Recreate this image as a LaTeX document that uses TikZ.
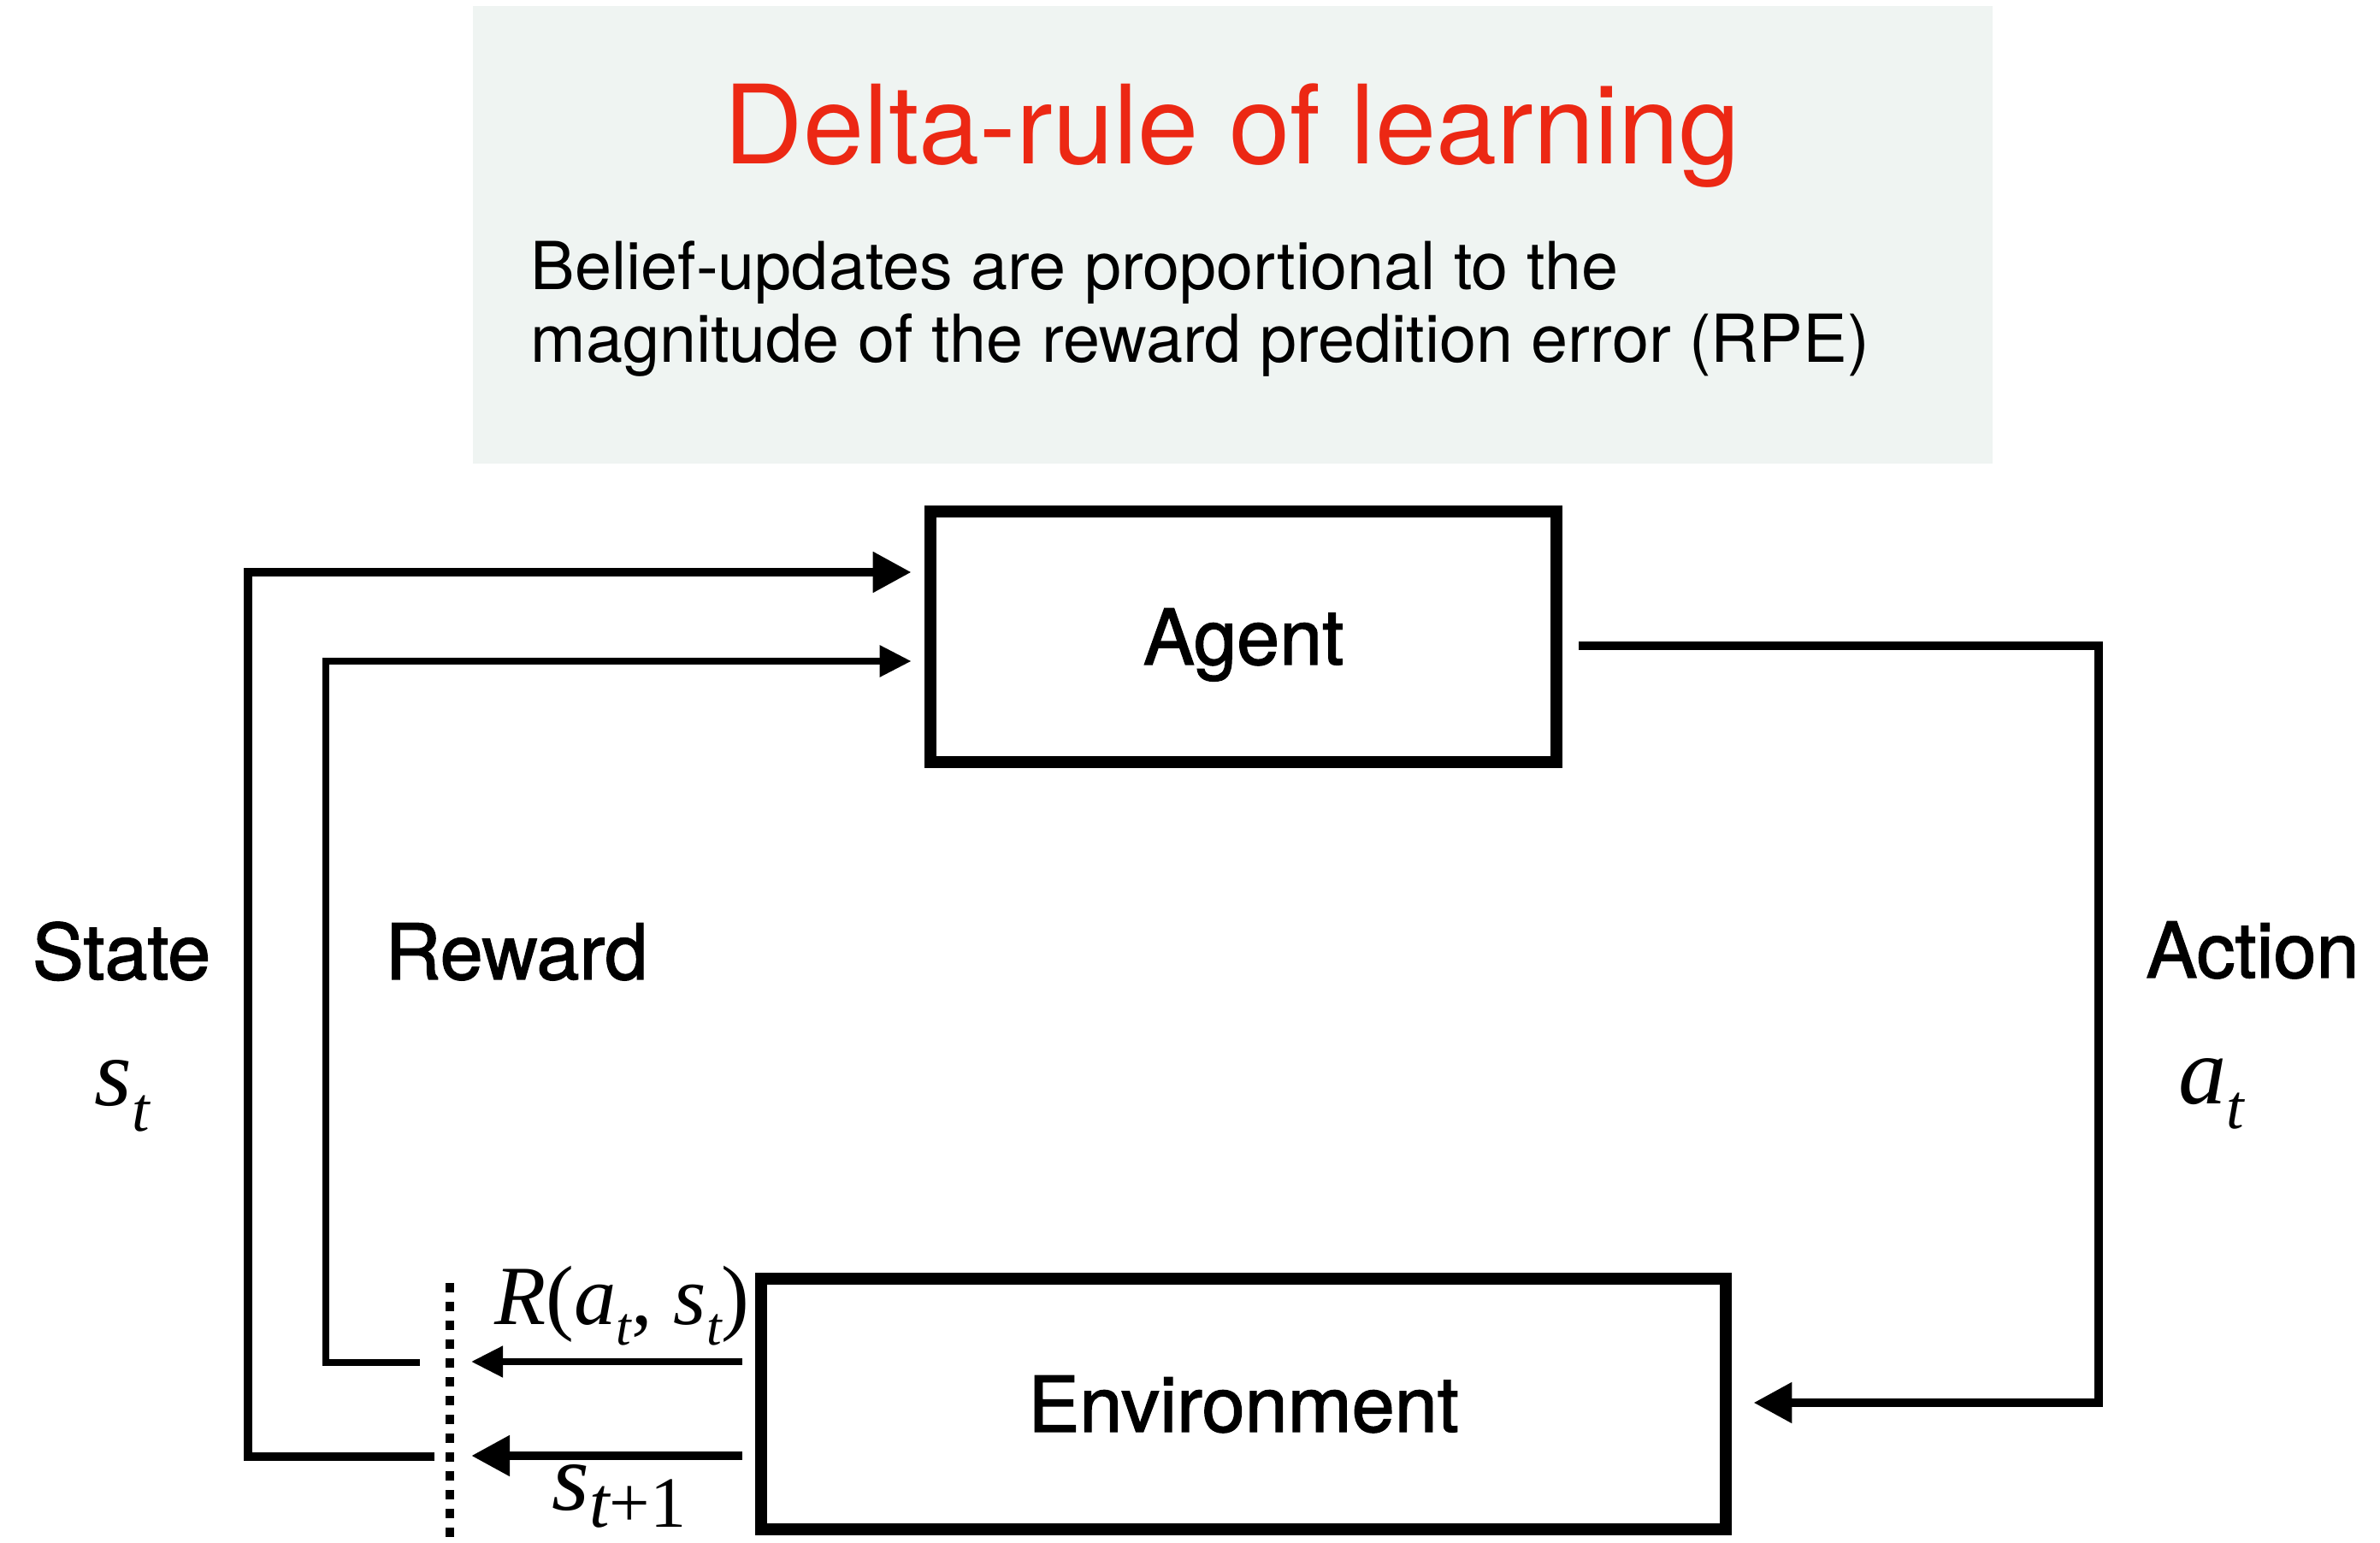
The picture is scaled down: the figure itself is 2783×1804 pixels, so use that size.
\documentclass[tikz,border=0pt]{standalone}
\usepackage{fontspec}
\setmainfont{TeX Gyre Heros}
\newfontfamily\medfont[FakeBold=1.5]{TeX Gyre Heros}
\newfontfamily\tms{Liberation Serif}
\usetikzlibrary{arrows.meta}
\definecolor{hdrgray}{RGB}{239,244,242}
\definecolor{titlered}{RGB}{236,40,20}
\newcommand\tvar[2]{{\tms\itshape\fontsize{#1}{#1}\selectfont #2}}
\newcommand\tup[2]{{\tms\fontsize{#1}{#1}\selectfont #2}}
\newcommand\tsub[3]{\raisebox{-#2}{\tms\itshape\fontsize{#1}{#1}\selectfont #3}}
\tikzset{
  box/.style={draw, line width=4pt, inner sep=0pt, minimum height=2.93cm,
    text height=18.4pt, text depth=0pt, font=\medfont\fontsize{25.6}{30}\selectfont},
  lbl/.style={inner sep=0pt, anchor=base, font=\medfont\fontsize{25.6}{30}\selectfont},
  mlbl/.style={inner sep=0pt, anchor=base west},
  bodytext/.style={inner sep=0pt, anchor=base west, font=\fontsize{22}{26}\selectfont},
  bigtip/.style={-{Triangle[length=0.45cm,width=0.45cm]}},
  smalltip/.style={-{Triangle[length=0.37cm,width=0.35cm]}},
  thickline/.style={line width=3.1pt},
  thinline/.style={line width=2.4pt},
  separator/.style={line width=2.85pt, dash pattern=on 0.11cm off 0.11cm},
}
\begin{document}
\begin{tikzpicture}[x=0.01cm, y=-0.01cm]
\fill[white] (0,0) rectangle (2783,1804);
\useasboundingbox (0,0) rectangle (2783,1804);

% header
\node[fill=hdrgray, inner sep=0pt, minimum width=17.75cm, minimum height=5.35cm] (hdr) at (1441.5,274.5) {};
\node[anchor=base, inner sep=0pt, text=titlered, font=\fontsize{36.4}{40}\selectfont] (title) at (1441,192) {Delta-rule of learning};
\node[bodytext] (body1) at (620,339) {Belief-updates are proportional to the};
\node[bodytext] (body2) at (620,424) {magnitude of the reward predition error (RPE)};

% boxes
\node[box, minimum width=7.32cm] (agent) at (1454,744.5) {Agent};
\node[box, minimum width=11.28cm] (env) at (1454,1641.5) {Environment};

% coordinates
\coordinate (sCornerT) at (290,669);
\coordinate (sCornerB) at (290,1703);
\coordinate (sEnd) at (508,1703);
\coordinate (rCornerT) at (381,773);
\coordinate (rCornerB) at (381,1593);
\coordinate (rEnd) at (491,1593);
\coordinate (aCornerT) at (2454,755);
\coordinate (aCornerB) at (2454,1640);
\coordinate (rTip) at (551,1592);
\coordinate (sTip) at (551,1702);
\coordinate (barTop) at (526,1500);
\coordinate (barBot) at (526,1797);

% state loop
\draw[thickline, bigtip, shorten >=0.15cm] (sEnd) -- (sCornerB) -- (sCornerT) -- (sCornerT -| agent.west);
% reward loop
\draw[thinline, smalltip, shorten >=0.15cm] (rEnd) -- (rCornerB) -- (rCornerT) -- (rCornerT -| agent.west);
% action
\draw[thickline, bigtip, shorten <=0.19cm, shorten >=0.25cm] (agent.east |- aCornerT) -- (aCornerT) -- (aCornerB) -- (env.east |- aCornerB);
% outputs of environment
\draw[line width=2.2pt, smalltip, shorten <=0.15cm] (env.west |- rTip) -- (rTip);
\draw[thickline, bigtip, shorten <=0.15cm] (env.west |- sTip) -- (sTip);
% separator
\draw[separator] (barTop) -- (barBot);

% labels
\node[lbl] (stateLbl) at (142,1145) {State};
\node[lbl] (rewardLbl) at (604,1145) {Reward};
\node[lbl] (actionLbl) at (2634,1143) {Action};
\node[mlbl] (st) at (110,1293) {\tvar{32}{s}\tsub{21}{8.3pt}{t}};
\node[mlbl] (at) at (2547,1291) {\tvar{32}{a}\tsub{21}{8pt}{t}};
\node[mlbl] (rew) at (578,1549) {\tvar{28}{R}\tup{28}{(}\tvar{28}{a}\tsub{18}{6.8pt}{t}\tup{28}{, }\tvar{28}{s}\tsub{18}{6.8pt}{t}\tup{28}{)}};
\node[mlbl] (snext) at (645,1766) {\tvar{32}{s}\tsub{24}{5.5pt}{t\upshape+1}};
\end{tikzpicture}
\end{document}
